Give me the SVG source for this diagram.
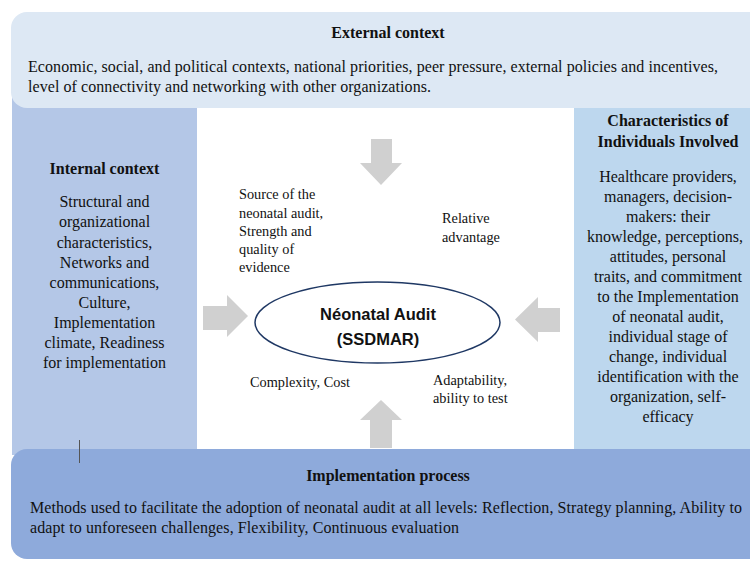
<svg xmlns="http://www.w3.org/2000/svg" width="750" height="561" viewBox="0 0 750 561">
<style>
.t{font-family:"Liberation Serif","Times New Roman",serif;font-size:16px;fill:#111}
.b{font-weight:bold}
.m{font-family:"Liberation Serif","Times New Roman",serif;font-size:14.3px;fill:#111}
.c{text-anchor:middle}
.arr{fill:#d0d0d0}
</style>
<rect x="0" y="0" width="750" height="561" fill="#ffffff"/>
<g id="internal-context">
<rect x="12" y="95" width="185" height="360" fill="#b4c7e7"/>
<text class="t b c" x="104.5" y="174">Internal context</text>
<text class="t c" x="104.5" y="207">Structural and</text>
<text class="t c" x="104.5" y="227">organizational</text>
<text class="t c" x="104.5" y="247.5">characteristics,</text>
<text class="t c" x="104.5" y="267.7">Networks and</text>
<text class="t c" x="104.5" y="288">communications,</text>
<text class="t c" x="104.5" y="308">Culture,</text>
<text class="t c" x="104.5" y="328">Implementation</text>
<text class="t c" x="104.5" y="348">climate, Readiness</text>
<text class="t c" x="104.5" y="368.3">for implementation</text>
</g>
<g id="individuals">
<rect x="574" y="95" width="190" height="360" fill="#bdd7ee"/>
<text class="t b c" x="668" y="126">Characteristics of</text>
<text class="t b c" x="668" y="147">Individuals Involved</text>
<text class="t c" x="668" y="181.7">Healthcare providers,</text>
<text class="t c" x="668" y="201.7">managers, decision-</text>
<text class="t c" x="668" y="221.7">makers: their</text>
<text class="t c" x="665" y="241.7">knowledge, perceptions,</text>
<text class="t c" x="668" y="261.7">attitudes, personal</text>
<text class="t c" x="668" y="281.7">traits, and commitment</text>
<text class="t c" x="668" y="301.7">to the Implementation</text>
<text class="t c" x="668" y="321.7">of neonatal audit,</text>
<text class="t c" x="668" y="341.7">individual stage of</text>
<text class="t c" x="668" y="361.7">change, individual</text>
<text class="t c" x="668" y="381.7">identification with the</text>
<text class="t c" x="668" y="401.7">organization, self-</text>
<text class="t c" x="668" y="421.7">efficacy</text>
</g>
<g id="external-context">
<rect x="11" y="12" width="760" height="96" rx="16" fill="#dde8f4"/>
<text class="t b c" x="388" y="38">External context</text>
<text class="t" x="28" y="72" textLength="690">Economic, social, and political contexts, national priorities, peer pressure, external policies and incentives,</text>
<text class="t" x="28" y="92" textLength="403">level of connectivity and networking with other organizations.</text>
</g>
<g id="audit-characteristics">
<text class="m" x="239" y="199">Source of the</text>
<text class="m" x="239" y="218">neonatal audit,</text>
<text class="m" x="239" y="236">Strength and</text>
<text class="m" x="239" y="254">quality of</text>
<text class="m" x="239" y="272">evidence</text>
<text class="m" x="442" y="223">Relative</text>
<text class="m" x="442" y="242">advantage</text>
<text class="m" x="250" y="387">Complexity, Cost</text>
<text class="m" x="433" y="385">Adaptability,</text>
<text class="m" x="433" y="403">ability to test</text>
</g>
<g id="connectors">
<polygon class="arr" points="371,139 392,139 392,163 402,163 381,185 360,163 371,163"/>
<polygon class="arr" points="203,306 227,306 227,295 248,316 227,337 227,330 203,330"/>
<polygon class="arr" points="560,308 538,308 538,297 515,319.5 538,342 538,332 560,332"/>
<polygon class="arr" points="370,448 392,448 392,420 402,420 381,400 360,420 370,420"/>
</g>
<g id="neonatal-audit">
<ellipse cx="377.5" cy="322.5" rx="122.5" ry="40.5" fill="#ffffff" stroke="#1f3864" stroke-width="1.5"/>
<text x="378" y="320" text-anchor="middle" font-family="'Liberation Sans',Arial,sans-serif" font-weight="bold" font-size="16.5" fill="#111">Néonatal Audit</text>
<text x="378" y="345" text-anchor="middle" font-family="'Liberation Sans',Arial,sans-serif" font-weight="bold" font-size="16.5" fill="#111">(SSDMAR)</text>
</g>
<g id="implementation-process">
<rect x="11" y="449" width="760" height="110" rx="16" fill="#8eaadb"/>
<text class="t b c" x="388" y="481">Implementation process</text>
<text class="t" x="30" y="513" textLength="712">Methods used to facilitate the adoption of neonatal audit at all levels: Reflection, Strategy planning, Ability to</text>
<text class="t" x="30" y="533" textLength="429">adapt to unforeseen challenges, Flexibility, Continuous evaluation</text>
</g>
<line x1="79.5" y1="440" x2="79.5" y2="463" stroke="#555" stroke-width="1"/>
</svg>
